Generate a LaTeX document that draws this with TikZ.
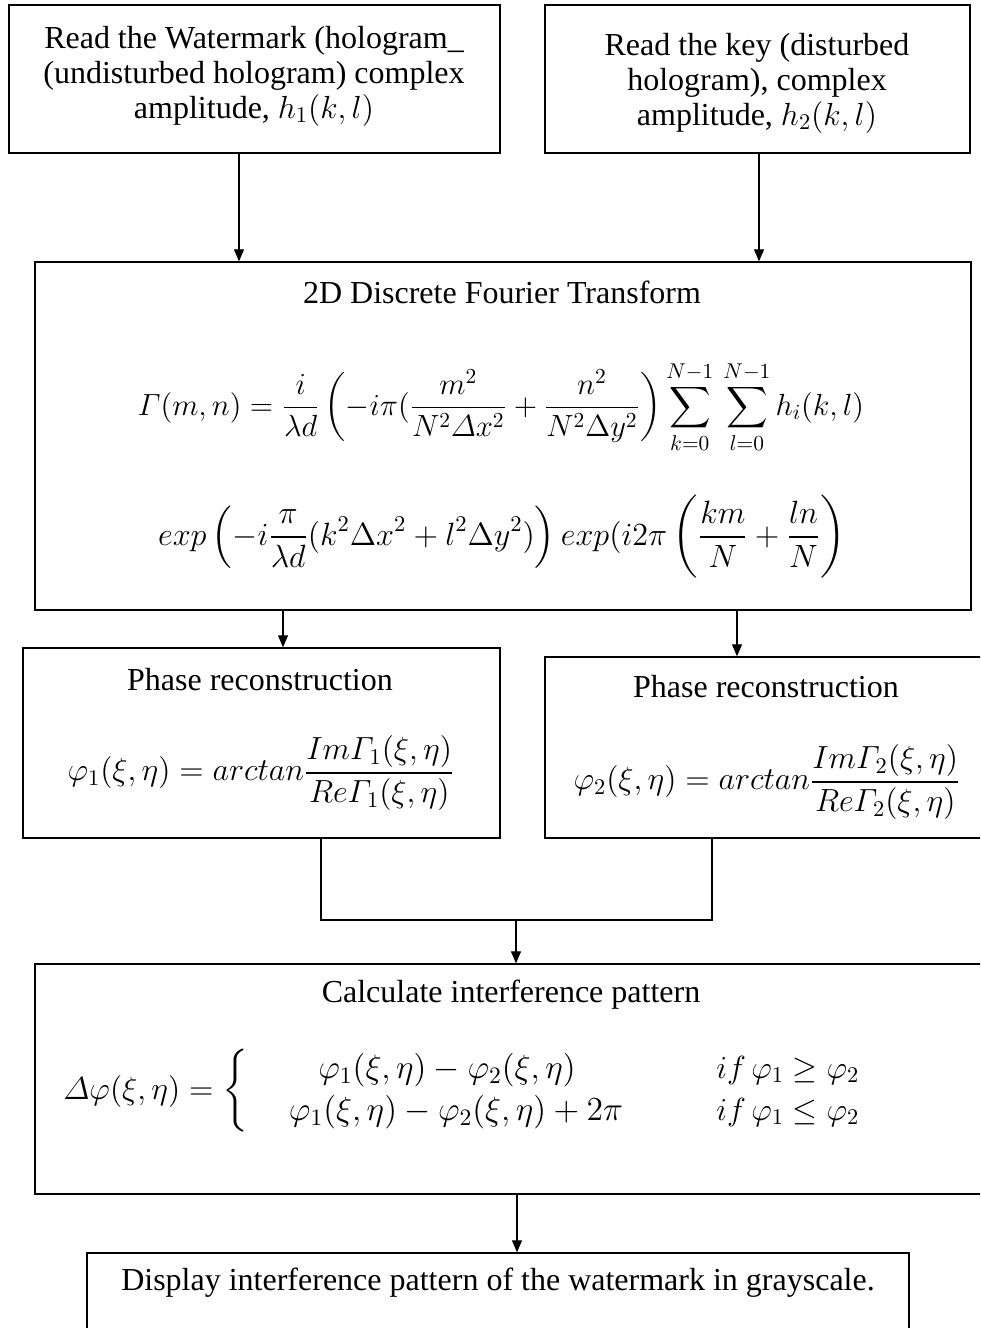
\RequirePackage{fix-cm}
\documentclass[tikz,border=0pt]{standalone}
\usepackage{amsmath}
\usepackage{fontspec}
\setmainfont{Liberation Serif}
\usetikzlibrary{arrows.meta}
\begin{document}
\begin{tikzpicture}[x=0.5pt,y=-0.5pt,
  box/.style={draw, line width=0.7pt, rectangle, inner sep=0pt},
  lbl/.style={font=\fontsize{16}{17.5}\selectfont, align=center, inner sep=0pt},
  mth/.style={font=\fontsize{16}{18}\selectfont, inner sep=0pt},
  arr/.style={-{Triangle[length=6pt,width=5pt]}, line width=0.6pt},
  conn/.style={line width=0.6pt}]
\useasboundingbox (0,0) rectangle (980,1328);
\clip (0,0) rectangle (980,1328);
% boxes
\node[box, minimum width=245.5pt, minimum height=74pt] (b1) at (254.5,79) {};
\node[box, minimum width=212.5pt, minimum height=74pt] (b2) at (757.5,79) {};
\node[box, minimum width=468pt, minimum height=174pt] (dft) at (503,436) {};
\node[box, minimum width=238.5pt, minimum height=95pt] (ph1) at (261.5,743) {};
\node[box, minimum width=222.5pt, minimum height=90.5pt] (ph2) at (767.5,747.5) {};
\node[box, minimum width=477.5pt, minimum height=115pt] (calc) at (512.5,1079) {};
\node[box, minimum width=411pt, minimum height=43.5pt] (disp) at (498,1296.5) {};
% texts
\node[lbl] (t1) at (254,76) {Read the Watermark (hologram\_\\(undisturbed hologram) complex\\amplitude, $h_1(k,l)$};
\node[lbl] (t2) at (757,83) {Read the key (disturbed\\hologram), complex\\amplitude, $h_2(k,l)$};
\node[lbl] (dftt) at (502,292) {2D Discrete Fourier Transform};
\node[mth, font=\fontsize{15.3}{18}\selectfont] (f1) at (501,407) {$\displaystyle \varGamma(m,n)=\frac{i}{\lambda d}\left(-i\pi(\frac{m^2}{N^2\varDelta x^2}+\frac{n^2}{N^2\Delta y^2}\right)\sum_{k=0}^{N-1}\,\sum_{l=0}^{N-1}h_i(k,l)$};
\node[mth, font=\fontsize{16.1}{18}\selectfont] (f2) at (502,537) {$\displaystyle exp\left(-i\frac{\pi}{\lambda d}(k^2\Delta x^2+l^2\Delta y^2)\right)exp(i2\pi\left(\frac{km}{N}+\frac{ln}{N}\right)$};
\node[lbl] (p1t) at (260,680) {Phase reconstruction};
\node[mth] (p1f) at (261,773) {$\displaystyle \varphi_1(\xi,\eta)=arctan\frac{Im\varGamma_1(\xi,\eta)}{Re\varGamma_1(\xi,\eta)}$};
\node[lbl] (p2t) at (766,687) {Phase reconstruction};
\node[mth] (p2f) at (767,782) {$\displaystyle \varphi_2(\xi,\eta)=arctan\frac{Im\varGamma_2(\xi,\eta)}{Re\varGamma_2(\xi,\eta)}$};
\node[lbl] (ct) at (511,995) {Calculate interference pattern};
\node[mth, anchor=west] (cl) at (63,1091) {$\varDelta\varphi(\xi,\eta)=\left\{\vphantom{\begin{matrix}a\\[2pt]b\end{matrix}}\right.$};
\node[mth, font=\fontsize{16.8}{18}\selectfont] (r1) at (447,1070) {$\varphi_1(\xi,\eta)-\varphi_2(\xi,\eta)$};
\node[mth, font=\fontsize{16.8}{18}\selectfont] (r2) at (456,1112) {$\varphi_1(\xi,\eta)-\varphi_2(\xi,\eta)+2\pi$};
\node[mth, anchor=west] (c1) at (716,1070) {$if\,\varphi_1\geq\varphi_2$};
\node[mth, anchor=west] (c2) at (716,1112) {$if\,\varphi_1\leq\varphi_2$};
\node[lbl] (dt) at (498,1283) {Display interference pattern of the watermark in grayscale.};
% connectors
\coordinate (x1) at (239,0);
\coordinate (x2) at (759,0);
\coordinate (x3) at (283,0);
\coordinate (x4) at (737,0);
\coordinate (x5) at (321,0);
\coordinate (x6) at (712,0);
\coordinate (x7) at (516,0);
\coordinate (x8) at (517,0);
\coordinate (my) at (0,920);
\draw[arr] (b1.south -| x1) -- (dft.north -| x1);
\draw[arr] (b2.south -| x2) -- (dft.north -| x2);
\draw[arr] (dft.south -| x3) -- (ph1.north -| x3);
\draw[arr] (dft.south -| x4) -- (ph2.north -| x4);
\draw[conn] (ph1.south -| x5) -- (x5 |- my) -- (x6 |- my) -- (ph2.south -| x6);
\coordinate (mj) at (x7 |- my);
\draw[arr] (mj) -- (calc.north -| x7);
\draw[arr] (calc.south -| x8) -- (disp.north -| x8);
\end{tikzpicture}
\end{document}
